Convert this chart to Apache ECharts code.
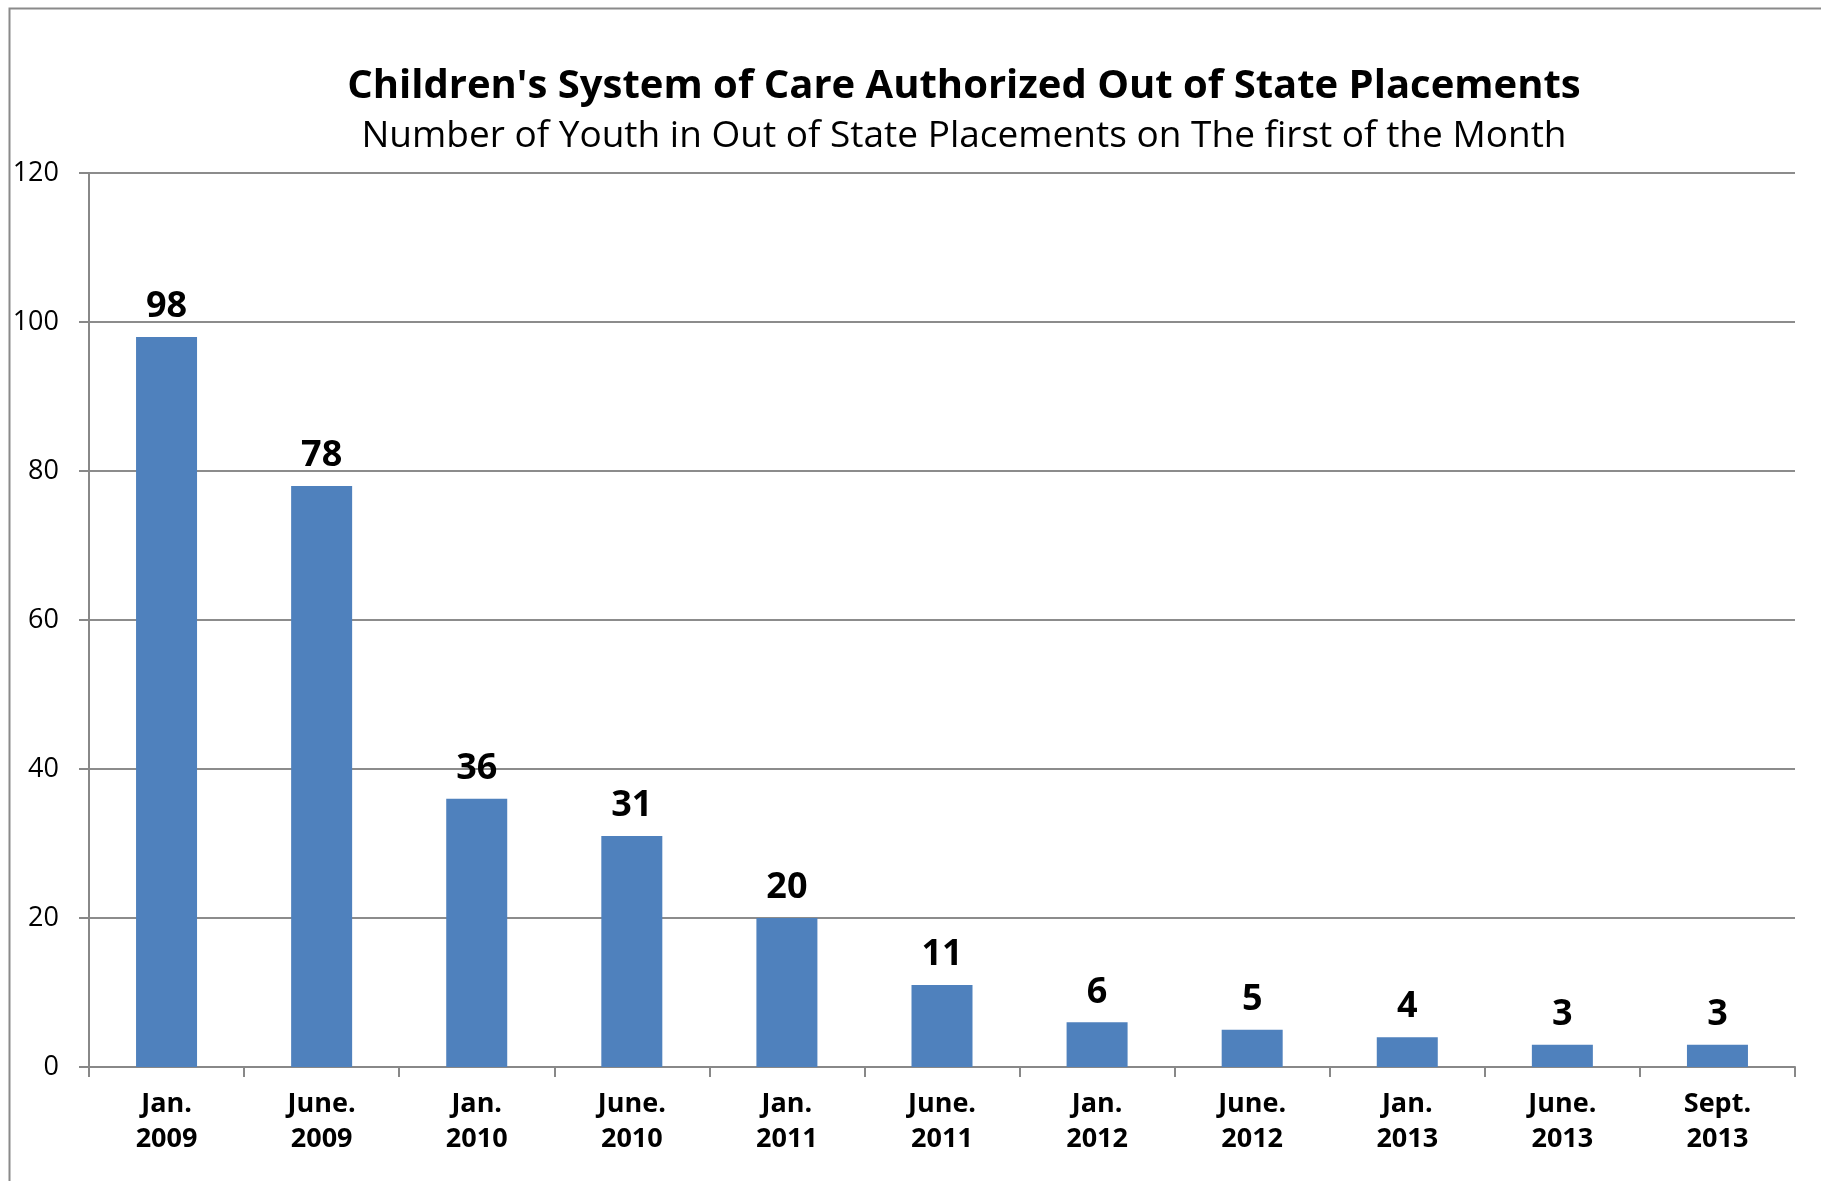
<!DOCTYPE html>
<html>
<head>
<meta charset="utf-8">
<script src="https://cdn.jsdelivr.net/npm/echarts@6/dist/echarts.min.js"></script>
<style>
html,body{margin:0;padding:0;background:#fff;}
#chart{width:1821px;height:1181px;}
</style>
</head>
<body>
<div id="chart"></div>
<script>
const categories = ['Jan.\n2009','June.\n2009','Jan.\n2010','June.\n2010','Jan.\n2011','June.\n2011','Jan.\n2012','June.\n2012','Jan.\n2013','June.\n2013','Sept.\n2013'];
const values = [98, 78, 36, 31, 20, 11, 6, 5, 4, 3, 3];
const yTicks = [0, 20, 40, 60, 80, 100, 120];
const titleText = "Children's System of Care Authorized Out of State Placements";
const subtitleText = 'Number of Youth in Out of State Placements on The first of the Month';

const FONT = 'Open Sans';
const chart = echarts.init(document.getElementById('chart'), null, {renderer: 'canvas'});
chart.setOption({
  backgroundColor: '#ffffff',
  animation: false,
  graphic: [{
    type: 'rect', left: 7, top: 6, silent: true,
    shape: {x: 0, y: 0, width: 1830, height: 1200},
    style: {fill: 'none', stroke: '#8a8a8a', lineWidth: 2}
  }],
  title: [{
    text: titleText, left: 959, top: 62, textAlign: 'center',
    textStyle: {fontFamily: FONT, fontWeight: 'bold', fontSize: 40, color: '#000'}
  }, {
    text: subtitleText, left: 959, top: 113, textAlign: 'center',
    textStyle: {fontFamily: FONT, fontWeight: 'normal', fontSize: 37, color: '#000'}
  }],
  grid: {left: 89, right: 26, top: 173, bottom: 114, containLabel: false},
  xAxis: {
    type: 'category', data: categories,
    axisLine: {show: true, lineStyle: {color: '#888', width: 2}},
    axisTick: {show: true, length: 10, alignWithLabel: false, lineStyle: {color: '#888', width: 2}},
    axisLabel: {fontFamily: FONT, fontWeight: 'bold', fontSize: 27, color: '#000', lineHeight: 35, margin: 20, interval: 0}
  },
  yAxis: {
    type: 'value', min: yTicks[0], max: yTicks[yTicks.length-1], interval: 20,
    axisLine: {show: true, lineStyle: {color: '#888', width: 2}},
    axisTick: {show: true, length: 10, lineStyle: {color: '#888', width: 2}},
    splitLine: {show: true, lineStyle: {color: '#8c8c8c', width: 2}},
    axisLabel: {fontFamily: FONT, fontSize: 27, color: '#000', margin: 30}
  },
  series: [{
    type: 'bar', data: values, barWidth: 61,
    itemStyle: {color: '#4F81BD'},
    label: {show: true, position: 'top', distance: 12, fontFamily: FONT, fontWeight: 'bold', fontSize: 36, color: '#000'}
  }]
});
</script>
</body>
</html>
